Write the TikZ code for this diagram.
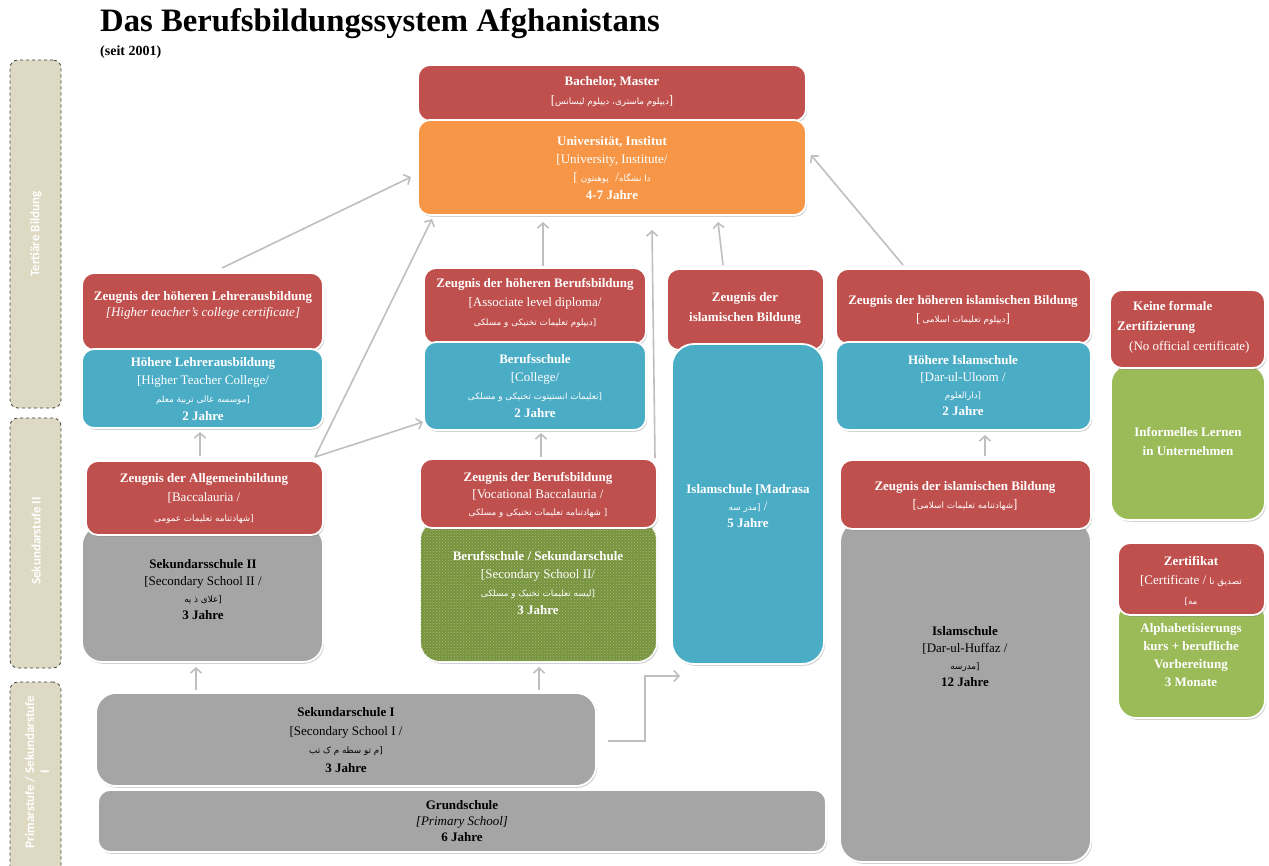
\documentclass[tikz,border=0pt]{standalone}
\usepackage{fontspec}
\setmainfont{Liberation Serif}
\newfontfamily\arabicfont[Script=Arabic]{DejaVu Sans}
\newfontfamily\sidefont{Carlito}
\TeXXeTstate=1
\usetikzlibrary{shadows,arrows.meta,patterns}
\definecolor{cred}{HTML}{C0504D}
\definecolor{corange}{HTML}{F79646}
\definecolor{cblue}{HTML}{4BACC6}
\definecolor{cgray}{HTML}{A5A5A5}
\definecolor{cgreen}{HTML}{9BBB59}
\definecolor{cdgreen}{HTML}{77933C}
\definecolor{ctan}{HTML}{DDD9C3}
\definecolor{carrow}{HTML}{BFBFBF}
\newcommand\arf{\arabicfont\fontsize{8.8}{18}\selectfont}
\newcommand\boxat[7][12pt]{%
  \node[bx, rounded corners=#1, fill=#3, minimum width={(#6-#4)*1pt}, minimum height={(#7-#5)*1pt}] (#2) at ({(#4+#6)/2},{(#5+#7)/2}) {};}
\tikzset{
  bx/.style={draw=white, line width=1.8pt, inner sep=0pt, outer sep=0pt,
    drop shadow={opacity=0.35, shadow xshift=1.2pt, shadow yshift=-1.8pt}},
  side/.style={draw=black!75, dashed, line width=0.8pt, fill=ctan, rounded corners=8pt, inner sep=0pt},
  sidetxt/.style={rotate=90, text=white, font=\sidefont\bfseries\fontsize{13}{15}\selectfont, align=center, inner sep=0pt},
  txt/.style={align=center, inner sep=0pt, text=white, font=\fontsize{13}{18}\selectfont},
  btxt/.style={txt, text=black},
  arr/.style={draw=carrow, line width=1.6pt, -{Straight Barb[length=5pt,width=11pt]}},
}
\begin{document}
\begin{tikzpicture}[x=1pt,y=-1pt]
\useasboundingbox[fill=white] (0,0) rectangle (1269,865);
% title
\node[anchor=base west, inner sep=0pt, font=\bfseries\fontsize{32.7}{34}\selectfont] (title) at (100,31) {Das Berufsbildungssystem Afghanistans};
\node[anchor=base west, inner sep=0pt, font=\bfseries\fontsize{14}{16}\selectfont] (seit) at (100,55) {(seit 2001)};
% sidebar
\node[side, minimum width=51pt, minimum height=348pt] (s1) at (35.5,234) {};
\node[side, minimum width=51pt, minimum height=250pt] (s2) at (35.5,543) {};
\node[side, minimum width=51pt, minimum height=200pt] (s3) at (35.5,782) {};
\node[sidetxt] (s1t) at (36,234) {Tertiäre Bildung};
\node[sidetxt] (s2t) at (36,541) {Sekundarstufe II};
\node[sidetxt] (s3t) at (37,772) {Primarstufe / Sekundarstufe\\I};

% ---------- tertiary ----------
\boxat{bm}{cred}{418}{65}{806}{121}
\boxat{uni}{corange}{418}{120}{806}{215}
\node[txt] (bmt) at (612,91.5) {\textbf{Bachelor, Master}\\[1pt] {[}{\arf\beginR دیپلوم ماستری، دیپلوم لیسانس\endR}]};
\node[txt] (unit) at (612,168) {\textbf{Universität, Institut}\\ {[}University, Institute/\\ {[}\ {\arf\beginR پوهنتون\endR} \ /{\arf\beginR دا نشگاه\endR}\\ \textbf{4-7 Jahre}};

\boxat{zl}{cred}{82}{273}{323}{350}
\boxat{hl}{cblue}{82}{349}{323}{428}
\node[txt, font=\fontsize{13}{16}\selectfont] (zlt) at (203,305) {\textbf{Zeugnis der höheren Lehrerausbildung}\\ \textit{[Higher teacher's college certificate]}};
\node[txt] (hlt) at (203,389) {\textbf{Höhere Lehrerausbildung}\\ {[}Higher Teacher College/\\ {\arf\beginR [موسسه عالی تربیة معلم\endR}\\ \textbf{2 Jahre}};

\boxat{zhb}{cred}{424}{268}{646}{344}
\boxat{bs}{cblue}{424}{342}{646}{430}
\node[txt, font=\fontsize{13}{19}\selectfont] (zhbt) at (535,303) {\textbf{Zeugnis der höheren Berufsbildung}\\ {[}Associate level diploma/\\ {\arf\beginR [دیپلوم تعلیمات تخنیکی و مسلکی\endR}};
\node[txt] (bst) at (535,386) {\textbf{Berufsschule}\\ {[}College/\\ {\arf\beginR [تعلیمات انستیتوت تخنیکی و مسلکی\endR}\\ \textbf{2 Jahre}};

\boxat{zi}{cred}{667}{269}{824}{350}
\boxat[22pt]{mad}{cblue}{672}{344}{824}{664}
\node[txt, font=\fontsize{13}{20}\selectfont] (zit) at (745,308) {\textbf{Zeugnis der}\\ \textbf{islamischen Bildung}};
\node[txt, font=\fontsize{13}{17}\selectfont] (madt) at (748,506) {\textbf{Islamschule [Madrasa}\\ {\arf\beginR [مدر سه\endR} /\\ \textbf{5 Jahre}};

\boxat{zhi}{cred}{836}{269}{1091}{344}
\boxat{his}{cblue}{836}{342}{1091}{430}
\node[txt] (zhit) at (963,310) {\textbf{Zeugnis der höheren islamischen Bildung}\\ {[}\,{\arf\beginR دیپلوم تعلیمات اسلامی\endR}]};
\node[txt, font=\fontsize{13}{17}\selectfont] (hist) at (963,386) {\textbf{Höhere Islamschule}\\ {[}Dar-ul-Uloom /\\ {\arf\beginR [دارالعلوم\endR}\\ \textbf{2 Jahre}};

\boxat[18pt]{inf}{cgreen}{1111}{365}{1265}{520}
\boxat{kf}{cred}{1110}{290}{1265}{368}
\node[txt, align=left, anchor=west, font=\fontsize{13}{20}\selectfont] (kft) at (1117,327) {\hspace*{16pt}\textbf{Keine formale}\\ \textbf{Zertifizierung}\\ \hspace*{12pt}(No official certificate)};
\node[txt, font=\fontsize{13}{19}\selectfont] (inft) at (1188,441.5) {\textbf{Informelles Lernen}\\ \textbf{in Unternehmen}};

% ---------- secondary II ----------
\boxat[20pt]{sk2}{cgray}{82}{525}{323}{662}
\boxat{za}{cred}{86}{461}{323}{535}
\node[txt, font=\fontsize{13}{19.5}\selectfont] (zat) at (204,498.5) {\textbf{Zeugnis der Allgemeinbildung}\\ {[}Baccalauria /\\ {\arf\beginR [شهادتنامه تعلیمات عمومی\endR}};
\node[btxt, font=\fontsize{13}{17}\selectfont] (sk2t) at (203,590) {\textbf{Sekundarsschule II}\\ {[}Secondary School II /\\ {\arf\beginR [علای ذ یه\endR}\\ \textbf{3 Jahre}};

\boxat[20pt]{bsk}{cdgreen}{420}{520}{657}{662}
\path[pattern=crosshatch dots, pattern color=white!35!cdgreen, rounded corners=20pt] (bsk.north west) rectangle (bsk.south east);
\boxat{zb}{cred}{420}{459}{657}{528}
\node[txt, font=\fontsize{13}{17}\selectfont] (zbt) at (538,495) {\textbf{Zeugnis der Berufsbildung}\\ {[}Vocational Baccalauria /\\ {\arf\beginR [ شهادتنامه تعلیمات تخنیکی و مسلکی\endR}};
\node[txt] (bskt) at (538,582.5) {\textbf{Berufsschule / Sekundarschule}\\ {[}Secondary School II/\\ {\arf\beginR [لیسه تعلیمات تخنیک و مسلکی\endR}\\ \textbf{3 Jahre}};

\boxat[22pt]{isl}{cgray}{840}{520}{1091}{862}
\boxat{zib}{cred}{840}{460}{1091}{529}
\node[txt] (zibt) at (965,496) {\textbf{Zeugnis der islamischen Bildung}\\ {[}{\arf\beginR شهادتنامه تعلیمات اسلامی\endR}]};
\node[btxt, font=\fontsize{13}{17}\selectfont] (islt) at (965,656.5) {\textbf{Islamschule}\\ {[}Dar-ul-Huffaz /\\ {\arf\beginR [مدرسه\endR}\\ \textbf{12 Jahre}};

\boxat[18pt]{alp}{cgreen}{1118}{600}{1265}{718}
\boxat{zer}{cred}{1118}{543}{1265}{615}
\node[txt, font=\fontsize{13}{19.5}\selectfont] (zert) at (1191,580.5) {\textbf{Zertifikat}\\ {[}Certificate / {\arf\beginR تصدیق نا\endR}\\ {\arf\beginR مه]\endR}};
\node[txt, font=\fontsize{13}{18}\selectfont] (alpt) at (1191,655) {\textbf{Alphabetisierungs}\\ \textbf{kurs + berufliche}\\ \textbf{Vorbereitung}\\ \textbf{3 Monate}};

% ---------- primary / secondary I ----------
\boxat[20pt]{sk1}{cgray}{96}{693}{596}{786}
\boxat{gs}{cgray}{98}{790}{826}{852}
\node[btxt, font=\fontsize{13}{18.7}\selectfont] (sk1t) at (346,740) {\textbf{Sekundarschule I}\\ {[}Secondary School I /\\ {\arf\beginR [م تو سطه م ک تب\endR}\\ \textbf{3 Jahre}};
\node[btxt, font=\fontsize{13}{16}\selectfont] (gst) at (462,821) {\textbf{Grundschule}\\ \textit{[Primary School]}\\ \textbf{6 Jahre}};

% ---------- connectors ----------
\coordinate (a1s) at (222,268);  \coordinate (a1e) at (411,177);
\coordinate (a2s) at (315,457);  \coordinate (a2e) at (432,219);
\coordinate (a3e) at (423,422);
\coordinate (a4s) at (200,456);  \coordinate (a4e) at (200,432);
\coordinate (a5s) at (543,266);  \coordinate (a5e) at (543,222);
\coordinate (a6s) at (541,457);  \coordinate (a6e) at (541,433);
\coordinate (a7s) at (655,458);  \coordinate (a7e) at (652,230);
\coordinate (a8s) at (723,265);  \coordinate (a8e) at (718,222);
\coordinate (a9s) at (903,265);  \coordinate (a9e) at (811,155);
\coordinate (a10s) at (985,456); \coordinate (a10e) at (985,435);
\coordinate (a11s) at (196,690); \coordinate (a11e) at (196,667);
\coordinate (a12s) at (539,690); \coordinate (a12e) at (539,667);
\coordinate (a13s) at (608,741); \coordinate (a13e) at (680,676);
\draw[arr] (a1s) -- (a1e);
\draw[arr] (a2s) -- (a2e);
\draw[arr] (a2s) -- (a3e);
\draw[arr] (a4s) -- (a4e);
\draw[arr] (a5s) -- (a5e);
\draw[arr] (a6s) -- (a6e);
\draw[arr] (a7s) -- (a7e);
\draw[arr] (a8s) -- (a8e);
\draw[arr] (a9s) -- (a9e);
\draw[arr] (a10s) -- (a10e);
\draw[arr] (a11s) -- (a11e);
\draw[arr] (a12s) -- (a12e);
\draw[arr] (a13s) -- (645,741) |- (a13e);
\end{tikzpicture}
\end{document}
